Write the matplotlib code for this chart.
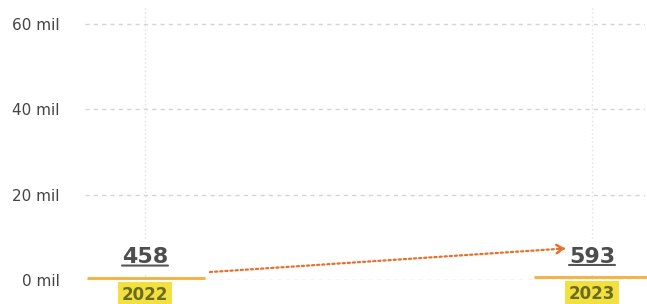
import matplotlib
matplotlib.use("Agg")
import matplotlib.pyplot as plt
from matplotlib.transforms import ScaledTranslation
import numpy as np

# - - - data - - -
years = ["2022", "2023"]
values = [458, 593]
yticks = [0, 20000, 40000, 60000]
ytick_labels = ["0 mil", "20 mil", "40 mil", "60 mil"]

plt.rcParams['font.family'] = ['DejaVu Sans']

fig = plt.figure(figsize=(6.47, 3.04), dpi=100)
ax = fig.add_axes([85 / 647, 24 / 304, 560 / 647, 275 / 304])

x = np.arange(len(years))
ax.set_xlim(-60 / 447, 1 + 53 / 447)
ax.set_ylim(0, 60000 * 275 / 256)

# grid
ax.set_yticks(yticks)
ax.set_yticklabels(ytick_labels, fontsize=11, color="#444444")
ax.set_xticks([])
ax.tick_params(axis="y", length=0, pad=18)
for s in ax.spines.values():
    s.set_visible(False)
for yv in yticks:
    ax.axhline(yv, color="#d4d4d4", lw=1, ls=(0, (3, 3)), zorder=0)
for xv in x:
    ax.axvline(xv, color="#e0e0e0", lw=1, ls=(0, (1, 2)), zorder=0)

# value segments
ax.hlines(values, x - 0.13, x + 0.134, color="#F2B54A", lw=2.2, zorder=3, clip_on=False)


def shifted(dx, dy):
    # data coords shifted by (dx, dy) pixels
    return ax.transData + ScaledTranslation(dx / 100, dy / 100, fig.dpi_scale_trans)


for xi, v, yr in zip(x, values, years):
    ax.annotate(f"{v}", (xi, v), xytext=(0, 15), textcoords="offset points",
                ha="center", va="center", fontsize=16, fontweight="bold", color="#4d4d4d",
                bbox=dict(boxstyle="square,pad=0.3", fc="white", ec="none"), zorder=4)
    # underline
    ax.annotate("", xy=(xi, v), xycoords=shifted(23, 12.5),
                xytext=(xi, v), textcoords=shifted(-23, 12.5),
                arrowprops=dict(arrowstyle="-", color="#555555", lw=1.5, shrinkA=0, shrinkB=0), zorder=5)
    ax.annotate(yr, (xi, v), xytext=(0, -12), textcoords="offset points",
                ha="center", va="center", fontsize=12, fontweight="bold", color="#6b6b20",
                bbox=dict(boxstyle="square,pad=0.25", fc="#F2E040", ec="none"),
                annotation_clip=False, zorder=4)

# trend arrow
orange = "#E8702A"
ax.annotate("", xy=(x[1], values[1]), xycoords=shifted(-27, 29),
            xytext=(x[0], values[0]), textcoords=shifted(65, 6),
            arrowprops=dict(arrowstyle="-", color=orange, lw=1.6, ls=(0, (1, 1.3)),
                            shrinkA=0, shrinkB=0), zorder=5)
ax.annotate("", xy=(x[1], values[1]), xycoords=shifted(-27, 29),
            xytext=(x[1], values[1]), textcoords=shifted(-33, 28.6),
            arrowprops=dict(arrowstyle="->,head_length=0.45,head_width=0.3", color=orange, lw=1.8,
                            shrinkA=0, shrinkB=0), zorder=5)

fig.savefig("out.png", dpi=100)
